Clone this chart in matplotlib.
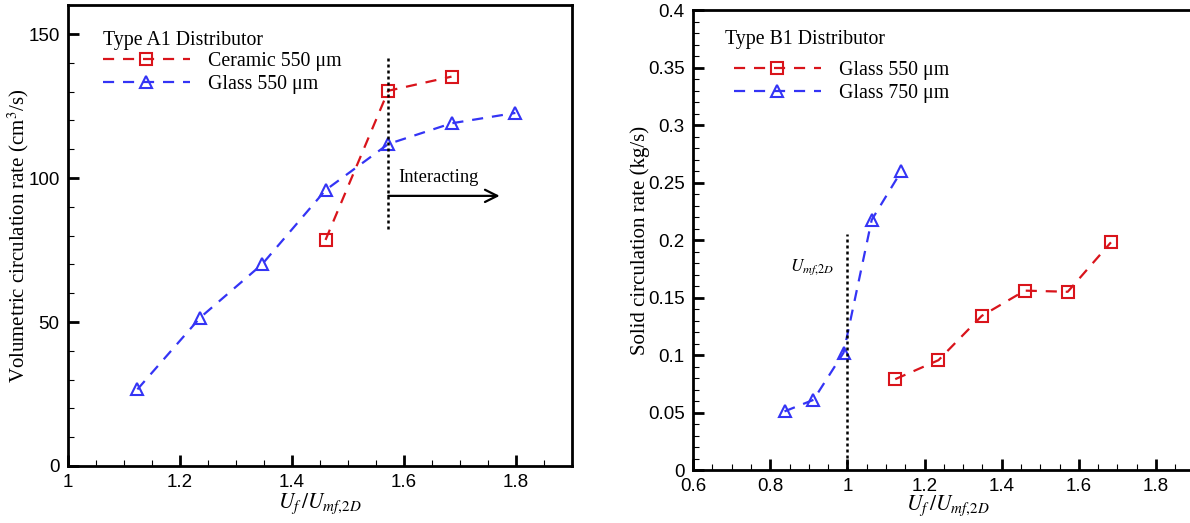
import matplotlib
matplotlib.use("Agg")
import matplotlib.pyplot as plt
from matplotlib.ticker import MultipleLocator

plt.rcParams["mathtext.fontset"] = "stix"
plt.rcParams["font.family"] = ["Liberation Serif", "DejaVu Serif"]

RED = "#d9141b"
BLUE = "#3434f5"
TICK_FONT = "Liberation Sans"

# Type A1 distributor (left panel)
a1_glass_x = [1.124, 1.236, 1.347, 1.460, 1.572, 1.685, 1.799]
a1_glass_y = [26.6, 51.5, 70.1, 95.8, 111.8, 119.0, 122.6]
a1_ceramic_x = [1.460, 1.572, 1.685]
a1_ceramic_y = [78.5, 130.3, 135.2]

# Type B1 distributor (right panel)
b1_g550_x = [1.124, 1.236, 1.348, 1.460, 1.571, 1.683]
b1_g550_y = [0.079, 0.0955, 0.134, 0.156, 0.155, 0.198]
b1_g750_x = [0.837, 0.912, 0.990, 1.063, 1.140]
b1_g750_y = [0.051, 0.061, 0.102, 0.2175, 0.260]

DASH = (0, (5, 4))
XLABEL = r"$U_f\,/U_{mf{,}2D}$"


def style_axes(ax, major_x, minor_x, major_y, minor_y):
    for s in ax.spines.values():
        s.set_linewidth(2.0)
    ax.xaxis.set_major_locator(MultipleLocator(major_x))
    ax.xaxis.set_minor_locator(MultipleLocator(minor_x))
    ax.yaxis.set_major_locator(MultipleLocator(major_y))
    ax.yaxis.set_minor_locator(MultipleLocator(minor_y))
    ax.tick_params(which="both", direction="in", top=False, right=False)
    ax.tick_params(which="major", length=8, width=2.0, labelsize=13.5, pad=6)
    ax.tick_params(which="minor", length=4, width=0.8)


def series(ax, x, y, color, marker, label):
    ax.plot(x, y, linestyle=DASH, color=color, lw=1.6, marker=marker,
            markersize=9, markerfacecolor="none", markeredgecolor=color,
            markeredgewidth=1.5, label=label)


def legend(ax, title, title_xy, box_xy):
    ax.text(title_xy[0], title_xy[1], title, transform=ax.transAxes,
            fontsize=14.3, ha="left", va="center")
    ax.legend(loc="upper left", bbox_to_anchor=box_xy, frameon=False,
              fontsize=14.3, handlelength=4.4, handletextpad=0.9,
              numpoints=1, labelspacing=0.2, borderaxespad=0, borderpad=0)


fig = plt.figure(figsize=(11.9, 5.23), dpi=100)

# Left panel
ax1 = fig.add_axes([0.0571, 0.109, 0.4235, 0.881])
series(ax1, a1_ceramic_x, a1_ceramic_y, RED, "s", "Ceramic 550 μm")
series(ax1, a1_glass_x, a1_glass_y, BLUE, "^", "Glass 550 μm")
ax1.plot([1.572, 1.572], [82.2, 142.5], color="black", lw=1.8,
         linestyle=(0, (1.2, 1.2)))
ax1.annotate("", xy=(1.771, 93.8), xytext=(1.572, 93.8),
             arrowprops=dict(arrowstyle="->", color="black", lw=1.6,
                             mutation_scale=22, shrinkA=0, shrinkB=0))
ax1.text(1.59, 100.3, "Interacting", fontsize=13.3, ha="left", va="center")
ax1.set_xlim(1.0, 1.9)
ax1.set_ylim(0, 160)
style_axes(ax1, 0.2, 0.05, 50, 10)
ax1.set_xticks([1.0, 1.2, 1.4, 1.6, 1.8])
ax1.set_xticklabels(["1", "1.2", "1.4", "1.6", "1.8"], fontfamily=TICK_FONT)
ax1.set_yticks([0, 50, 100, 150])
ax1.set_yticklabels(["0", "50", "100", "150"], fontfamily=TICK_FONT)
ax1.set_ylabel("Volumetric circulation rate (cm$^3$/s)", fontsize=15)
ax1.yaxis.set_label_coords(-0.074, 0.5)
ax1.set_xlabel(XLABEL, fontsize=15.5)
ax1.xaxis.set_label_coords(0.5, -0.056)
legend(ax1, "Type A1 Distributor", (0.069, 0.924), (0.069, 0.898))

# Right panel
ax2 = fig.add_axes([0.5824, 0.1013, 0.428, 0.8795])
series(ax2, b1_g550_x, b1_g550_y, RED, "s", "Glass 550 μm")
series(ax2, b1_g750_x, b1_g750_y, BLUE, "^", "Glass 750 μm")
ax2.plot([1.0, 1.0], [0.0, 0.205], color="black", lw=1.8,
         linestyle=(0, (1.2, 1.2)))
ax2.text(0.967, 0.176, r"$U_{mf{,}2D}$", fontsize=12.5, ha="right", va="center")
ax2.set_xlim(0.6, 1.92)
ax2.set_ylim(0, 0.4)
style_axes(ax2, 0.2, 0.05, 0.05, 0.01)
ax2.set_xticks([0.6, 0.8, 1.0, 1.2, 1.4, 1.6, 1.8])
ax2.set_xticklabels(["0.6", "0.8", "1", "1.2", "1.4", "1.6", "1.8"],
                    fontfamily=TICK_FONT)
ax2.set_yticks([0, 0.05, 0.1, 0.15, 0.2, 0.25, 0.3, 0.35, 0.4])
ax2.set_yticklabels(["0", "0.05", "0.1", "0.15", "0.2", "0.25", "0.3",
                     "0.35", "0.4"], fontfamily=TICK_FONT)
ax2.set_ylabel("Solid circulation rate (kg/s)", fontsize=15)
ax2.yaxis.set_label_coords(-0.085, 0.5)
ax2.set_xlabel(XLABEL, fontsize=15.5)
ax2.xaxis.set_label_coords(0.5, -0.052)
legend(ax2, "Type B1 Distributor", (0.062, 0.935), (0.08, 0.889))

fig.savefig("out.png", dpi=100)
